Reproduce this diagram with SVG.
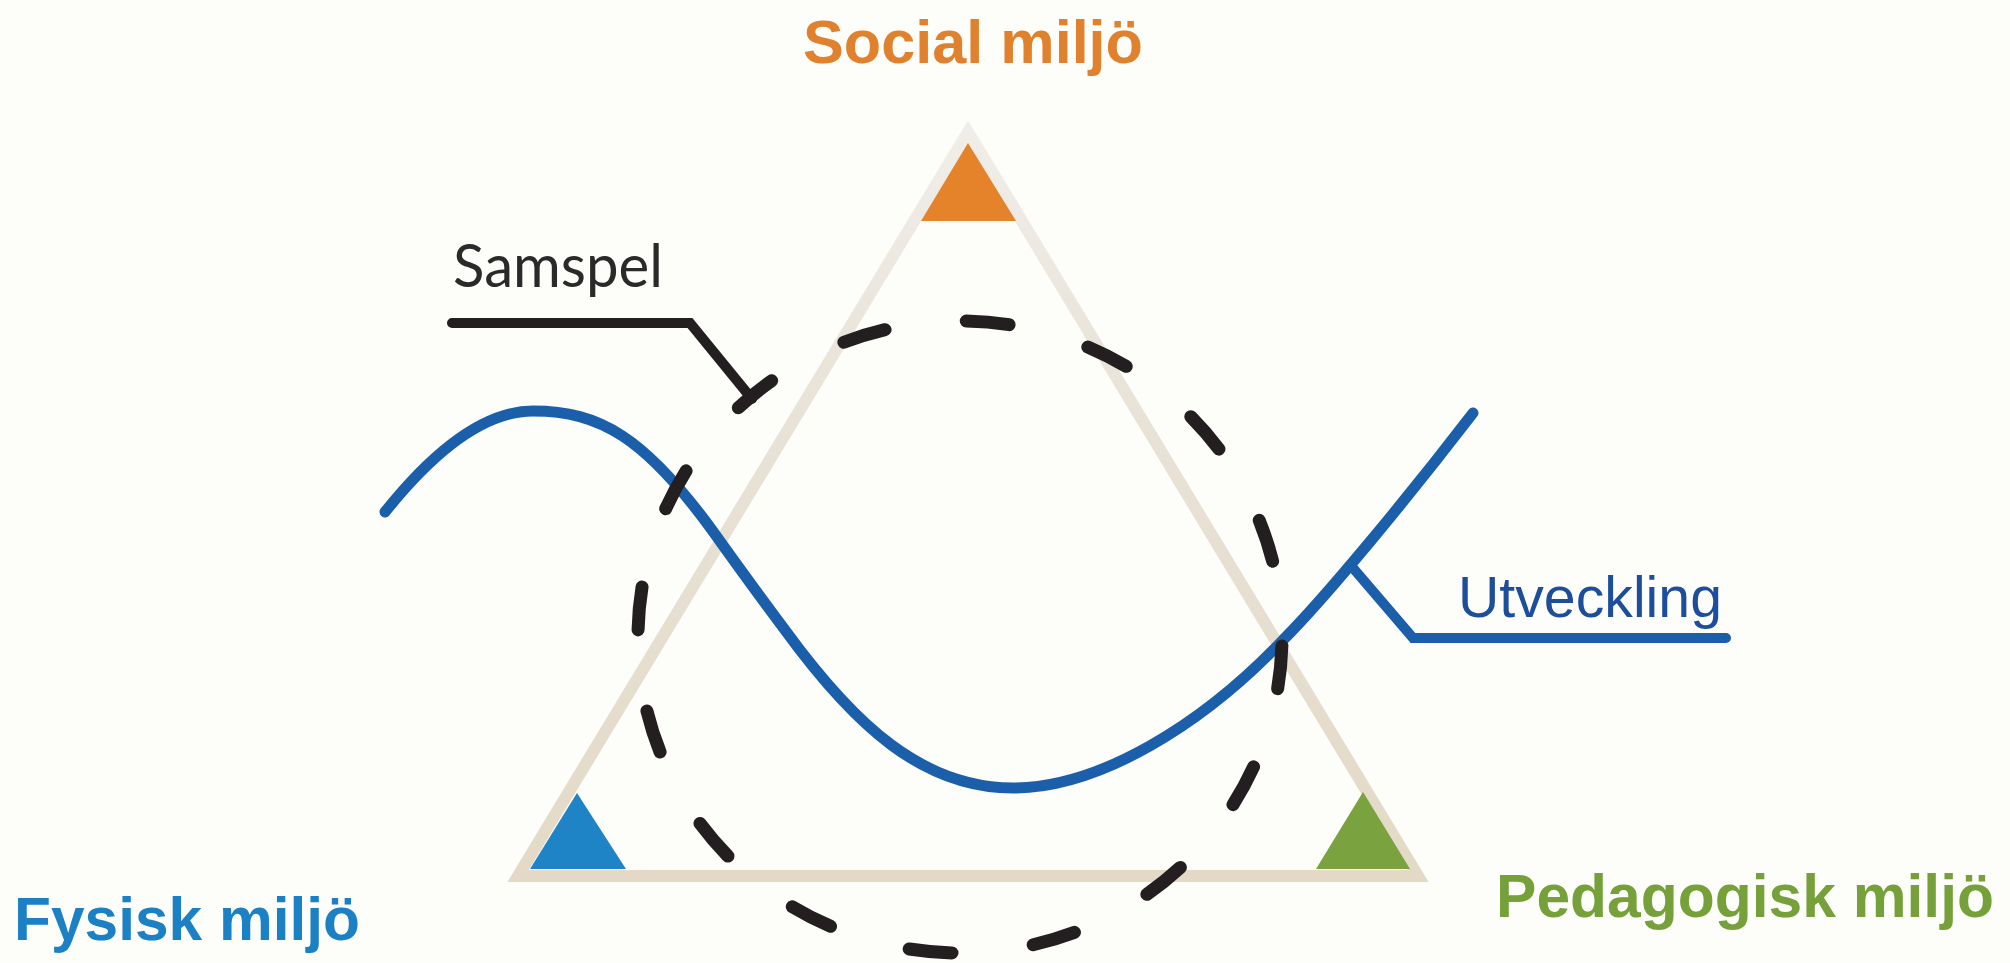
<svg xmlns="http://www.w3.org/2000/svg" width="2010" height="963" viewBox="0 0 2010 963">
  <defs>
    <linearGradient id="frameGrad" x1="0" y1="120" x2="0" y2="890" gradientUnits="userSpaceOnUse">
      <stop offset="0" stop-color="#f1eee9"/>
      <stop offset="0.35" stop-color="#e9e3d8"/>
      <stop offset="1" stop-color="#e3d9c6"/>
    </linearGradient>
    <style>
      .label { font-family: "Liberation Sans", Arial, sans-serif; font-weight: bold; font-size: 62px; }
      .frame { fill: none; stroke: url(#frameGrad); stroke-width: 12; stroke-linejoin: miter; }
      .wave { fill: none; stroke: #1b5fab; stroke-width: 11; stroke-linecap: round; stroke-linejoin: round; }
      .dash { fill: none; stroke: #231f20; stroke-width: 13; stroke-linecap: round; stroke-dasharray: 43 82; stroke-dashoffset: -9; }
      .leader-black { fill: none; stroke: #231f20; stroke-width: 10; stroke-linecap: round; stroke-linejoin: miter; }
      .leader-blue { fill: none; stroke: #1b5fab; stroke-width: 10; stroke-linecap: round; stroke-linejoin: miter; }
    </style>
  </defs>

  <rect x="0" y="0" width="2010" height="963" fill="#fdfdfa"/>

  <g id="frame">
    <polygon class="frame" points="968,132 518,876 1418,876"/>
  </g>

  <g id="node-social">
    <polygon points="968,143 921,221 1016,221" fill="#e5832b"/>
    <text class="label" x="803" y="63" fill="#e0812e" textLength="340" lengthAdjust="spacingAndGlyphs">Social miljö</text>
  </g>

  <g id="node-fysisk">
    <polygon points="577,793 530,869 626,869" fill="#1e84c6"/>
    <text class="label" x="14" y="940" fill="#1c81c4" textLength="346" lengthAdjust="spacingAndGlyphs">Fysisk miljö</text>
  </g>

  <g id="node-pedagogisk">
    <polygon points="1363,792 1316,869 1410,869" fill="#7aa23f"/>
    <text class="label" x="1496" y="917" fill="#76a03a" textLength="498" lengthAdjust="spacingAndGlyphs">Pedagogisk miljö</text>
  </g>

  <g id="node-utveckling">
    <path class="wave" d="M385,512 C425,462 478,411 533,411 C600,411 645,438 712,530 C737,565 755,590 785,630 C855,726 923,788 1013,788 C1100,788 1203,724 1283,640 C1323,600 1403,504 1473,413"/>
    <text x="1458" y="617" font-family="'Liberation Sans', Arial, sans-serif" font-size="58" fill="#1d4e9b" textLength="264" lengthAdjust="spacingAndGlyphs">Utveckling</text>
  </g>

  <g id="node-samspel">
    <path class="dash" d="M1282,637 A322,316 0 0 1 638,637 A322,316 0 0 1 1282,637"/>
    <text x="453" y="287" font-family="Lato, 'Open Sans', sans-serif" font-size="60" fill="#2b2a2a" textLength="210" lengthAdjust="spacingAndGlyphs">Samspel</text>
  </g>

  <g id="connectors">
    <path class="leader-black" d="M452,323 H690 L752,399"/>
    <path class="leader-blue" d="M1353,568 L1413,638 H1726"/>
  </g>
</svg>
